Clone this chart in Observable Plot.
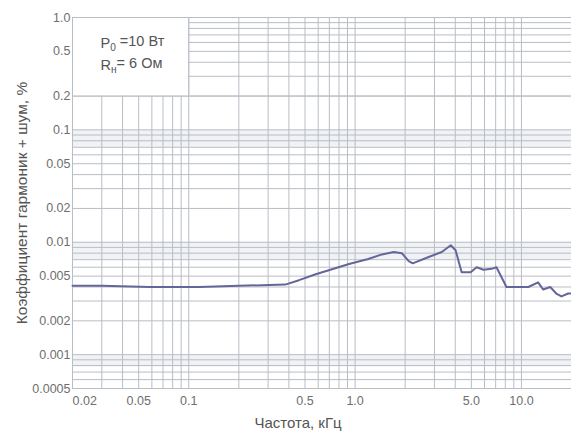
<!DOCTYPE html>
<html>
<head>
<meta charset="utf-8">
<script src="https://cdn.jsdelivr.net/npm/d3@7"></script>
<script src="https://cdn.jsdelivr.net/npm/@observablehq/plot@0.6"></script>
<style>
  body { margin: 0; background: #fff; }
  #chart svg { display: block; }
</style>
</head>
<body>
<div id="chart"></div>
<script>
// THD+N versus frequency, P0 = 10 W into 6 Ω
const freqKHz = [0.02, 0.03, 0.058, 0.116, 0.2, 0.38, 0.46, 0.58, 0.92, 1.2, 1.45, 1.71, 1.91, 2.1, 2.22, 2.77, 3.32, 3.76, 4.02, 4.37, 4.95, 5.38, 5.92, 6.61, 7.08, 8.13, 9.33, 11.0, 12.6, 13.5, 14.9, 16.2, 17.4, 19.1, 20];
const thdPercent = [0.0041, 0.0041, 0.0040, 0.0040, 0.0041, 0.0042, 0.0046, 0.0052, 0.0064, 0.0071, 0.0078, 0.0082, 0.0080, 0.0068, 0.0065, 0.0074, 0.0082, 0.0094, 0.0085, 0.0054, 0.0054, 0.0060, 0.0057, 0.0058, 0.0060, 0.0040, 0.0040, 0.0040, 0.0044, 0.0038, 0.0040, 0.0035, 0.0033, 0.0035, 0.0035];

const xTicks = [0.02, 0.05, 0.1, 0.5, 1, 5, 10];
const xTickLabels = ["0.02", "0.05", "0.1", "0.5", "1.0", "5.0", "10.0"];
const yTicks = [1, 0.5, 0.2, 0.1, 0.05, 0.02, 0.01, 0.005, 0.002, 0.001, 0.0005];
const yTickLabels = ["1.0", "0.5", "0.2", "0.1", "0.05", "0.02", "0.01", "0.005", "0.002", "0.001", "0.0005"];

const xTitle = "Частота, кГц";
const yTitle = "Коэффициент гармоник + шум, %";
const legendLines = [
  {base: "P", sub: "0", rest: " =10 Вт"},
  {base: "R", sub: "н", rest: "= 6 Ом"}
];

const xDomain = [0.02, 20];
const yDomain = [0.0005, 1];

// light bands just under each decade line
const shadedBands = [[0.07, 0.1], [0.007, 0.01], [0.00078, 0.001]];

// logarithmic paper grid: 1..9 × 10^n inside the domain
function logGrid([lo, hi]) {
  const out = [];
  for (let e = Math.floor(Math.log10(lo)); e <= Math.ceil(Math.log10(hi)); e++) {
    for (let k = 1; k <= 9; k++) {
      const v = +(k * Math.pow(10, e)).toPrecision(6);
      if (v >= lo * 0.9999 && v <= hi * 1.0001) out.push(v);
    }
  }
  return out;
}
const xGrid = logGrid(xDomain);
const yGrid = logGrid(yDomain);

const data = freqKHz.map((f, i) => ({f, v: thdPercent[i]}));
const xTickData = xTicks.map((v, i) => ({v, label: xTickLabels[i]}));
const yTickData = yTicks.map((v, i) => ({v, label: yTickLabels[i]}));

const gridColor = "#b9bdc4";
const tickColor = "#6e6e6e";
const font = "'Liberation Sans', Arial, sans-serif";

const chart = Plot.plot({
  width: 571,
  height: 433,
  marginLeft: 72,
  marginRight: 0,
  marginTop: 17,
  marginBottom: 45,
  style: {fontFamily: font, background: "#fff"},
  x: {type: "log", domain: xDomain, axis: null},
  y: {type: "log", domain: yDomain, axis: null},
  marks: [
    Plot.rect(shadedBands, {x1: () => xDomain[0], x2: () => xDomain[1], y1: d => d[0], y2: d => d[1], fill: "#f0f2f6"}),
    Plot.ruleX(xGrid, {stroke: gridColor, strokeWidth: 1}),
    Plot.ruleY(yGrid, {stroke: gridColor, strokeWidth: 1}),
    // blank panel holding the test conditions
    Plot.rect([0], {x1: () => 0.02, x2: () => 0.1, y1: () => 0.2, y2: () => 1, fill: "#fff"}),
    Plot.ruleX([0.1], {y1: 0.2, y2: 1, stroke: gridColor}),
    Plot.ruleY([1, 0.2], {stroke: gridColor}),
    Plot.ruleX([0.02], {stroke: gridColor}),
    Plot.line(data, {x: "f", y: "v", stroke: "#64669a", strokeWidth: 2, strokeLinejoin: "round"}),
    // tick labels
    Plot.text(xTickData.slice(1), {x: "v", text: "label", frameAnchor: "bottom", lineAnchor: "top", dy: 8, fontSize: 12.5, fill: tickColor}),
    Plot.text(xTickData.slice(0, 1), {x: "v", text: "label", frameAnchor: "bottom", lineAnchor: "top", textAnchor: "start", dy: 8, fontSize: 12.5, fill: tickColor}),
    Plot.text(yTickData, {y: "v", text: "label", frameAnchor: "left", textAnchor: "end", dx: -2, fontSize: 12.5, fill: tickColor}),
    // axis titles
    Plot.text([xTitle], {frameAnchor: "bottom", lineAnchor: "middle", dx: -24, dy: 35, fontSize: 15, fill: "#555"}),
    Plot.text([yTitle], {frameAnchor: "left", textAnchor: "middle", rotate: -90, dx: -50, fontSize: 15.5, fill: "#555"}),
    // test conditions
    Plot.text([legendLines[0]], {text: d => d.base + d.sub + d.rest, frameAnchor: "top-left", textAnchor: "start", lineAnchor: "bottom", dx: 28, dy: 30, fontSize: 14.5, fill: "#555", className: "cond-label"}),
    Plot.text([legendLines[1]], {text: d => d.base + d.sub + d.rest, frameAnchor: "top-left", textAnchor: "start", lineAnchor: "bottom", dx: 28, dy: 52, fontSize: 14.5, fill: "#555", className: "cond-label"})
  ]
});

// set the subscripts of P0 and Rн
d3.select(chart).selectAll(".cond-label text").each(function(d, i) {
  const line = legendLines[i];
  const t = d3.select(this).text(null);
  t.append("tspan").text(line.base);
  t.append("tspan").attr("dy", "0.3em").attr("font-size", "0.7em").text(line.sub);
  t.append("tspan").attr("dy", "-0.3em").text(line.rest);
});

document.getElementById("chart").append(chart);
</script>
</body>
</html>
